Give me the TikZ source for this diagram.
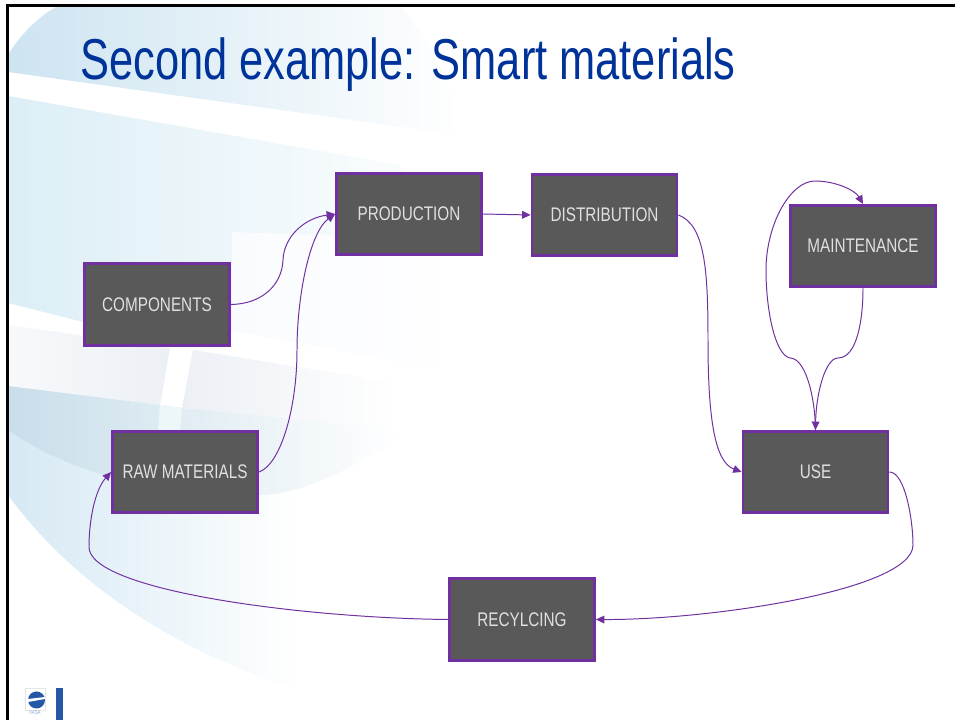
\documentclass[tikz,border=0pt]{standalone}
\usepackage{fontspec}
\setmainfont[FakeStretch=0.777]{Liberation Sans}
\newfontfamily\titlefont[FakeStretch=0.753]{Liberation Sans}
\usetikzlibrary{arrows.meta}
\definecolor{boxgray}{HTML}{595959}
\definecolor{boxline}{HTML}{7030A0}
\definecolor{titleblue}{HTML}{003399}
\definecolor{washblue}{HTML}{CDE4F1}
\definecolor{palewash}{HTML}{DCEEF6}
\definecolor{darkwash}{HTML}{C8DEEA}
\definecolor{greywash}{HTML}{ECF0F5}
\definecolor{lowwash}{HTML}{D6E9F4}
\definecolor{blockwash}{HTML}{F9FBFE}
\definecolor{logoblue}{HTML}{2458A6}
\tikzset{
  stagebox/.style={draw=boxline, line width=2pt, fill=boxgray, text=white!88!black, minimum width=3.625cm, minimum height=2.03cm, font=\fontsize{14}{16}\selectfont},
  flow/.style={draw=boxline, line width=0.7pt, -{Triangle[length=6pt,width=5.5pt]}}
}
\begin{document}
\begin{tikzpicture}[x=0.025cm,y=-0.025cm]
                \useasboundingbox (0,0) rectangle (955,720);
                % Fondo
                \fill[white] (0,0) rectangle (955,720);
                \shade[left color=washblue, middle color=washblue!45!white, right color=white] (8,55) .. controls (20,35) and (40,15) .. (58,6) -- (400,6) .. controls (430,40) and (455,90) .. (460,135) -- (8,72) -- cycle;
                \shade[left color=palewash, middle color=palewash!25!white, right color=white] (8,96) -- (400,165) -- (470,375) -- (232,330) -- (83,322) -- (8,303) -- cycle;
                \shade[left color=blockwash, right color=white] (232,232) -- (470,240) -- (470,375) -- (232,330) -- cycle;
                \shade[left color=greywash!40!white, right color=greywash] (8,325) -- (170,348) -- (160,405) -- (8,386) -- cycle;
                \shade[left color=greywash, right color=white] (193,350) -- (360,377) -- (400,384) -- (400,432) -- (182,408) -- cycle;
                \shade[left color=lowwash, middle color=lowwash!40!white, right color=white] (8,430) -- (260,495) -- (300,495) -- (300,690) .. controls (170,650) and (70,580) .. (8,495) -- cycle;
                \shade[left color=darkwash, middle color=greywash, right color=white] (8,386) -- (160,405) -- (182,408) -- (400,430) -- (400,437) .. controls (350,470) and (300,495) .. (260,495) .. controls (170,495) and (80,480) .. (8,430) -- cycle;
                \fill[palewash!50!white] (160,405) -- (182,408) -- (180,432) -- (158,432) -- cycle;
                \fill[black] (6,4) rectangle (955,6.7);
                \fill[black] (6,4) rectangle (8.7,720);
                % Logo
                \fill[logoblue] (56,688) rectangle (63,720);
                \draw[black!10] (25,688) rectangle (45,710);
                \fill[logoblue] (36.5,700) circle (8.5);
                \fill[white] (28,699) -- (45,697) -- (45,699) -- (28,702) -- cycle;
                \node[text=logoblue!50!white, inner sep=0pt, font=\fontsize{4}{5}\selectfont] (logotext) at (35,713) {IIASA};
                % Titulo
                \node[anchor=base west, text=titleblue, inner sep=0pt, font=\titlefont\fontsize{41}{46}\selectfont] (title) at (80,80) {Second example: Smart materials};
                % Cajas
                \node[stagebox] (components) at (157,304.5) {COMPONENTS};
                \node[stagebox] (rawmaterials) at (185,472) {RAW MATERIALS};
                \node[stagebox] (production) at (409,214) {PRODUCTION};
                \node[stagebox] (distribution) at (604.5,215) {DISTRIBUTION};
                \node[stagebox] (maintenance) at (863,246) {MAINTENANCE};
                \node[stagebox] (use) at (815.5,472) {USE};
                \node[stagebox] (recycling) at (522,619.5) {RECYLCING};
                % Conectores
                \draw[flow] (components.east) .. controls (262,304) and (282,285) .. (283,260) .. controls (284,236) and (305,218) .. (production.west);
                \draw[flow] (rawmaterials.east) .. controls (280,465) and (297,410) .. (297,350) .. controls (297,295) and (310,232) .. (production.west);
                \draw[flow] (production.east) -- (distribution.west);
                \draw[flow] (distribution.east) .. controls (705,225) and (708,270) .. (708,340) .. controls (708,420) and (715,462) .. (use.west);
                \draw[flow] (maintenance.south) .. controls (863,320) and (857,358) .. (838,358) .. controls (825,358) and (816,395) .. (use.north);
                \draw[flow] (use.north) .. controls (815,395) and (805,358) .. (790,358) .. controls (775,355) and (766,310) .. (766,270) .. controls (766,225) and (790,181) .. (815,181) .. controls (835,181) and (855,190) .. (maintenance.north);
                \draw[flow] (use.east) .. controls (905,472) and (913,520) .. (913,545) .. controls (913,590) and (710,620) .. (recycling.east);
                \draw[flow] (recycling.west) .. controls (300,618) and (89,590) .. (89,547) .. controls (89,520) and (95,490) .. (rawmaterials.west);
                \end{tikzpicture}
\end{document}
